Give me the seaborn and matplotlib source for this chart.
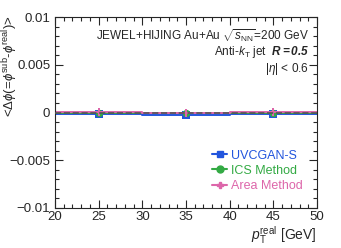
import numpy as np
import pandas as pd
import matplotlib
matplotlib.use("Agg")
import matplotlib.pyplot as plt
import seaborn as sns
from matplotlib.ticker import MultipleLocator

# Data
bin_edges = [20, 30, 40, 50]
bin_centers = [25, 35, 45]
uvcgan = [-0.0002, -0.0003, -0.0002]
ics = [0.0, -0.0001, 0.0]
area = [0.0001, 0.0, 0.0001]
methods = ["UVCGAN-S", "ICS Method", "Area Method"]
colors = ["#2255dd", "#33aa44", "#dd66aa"]
markers = ["s", "o", "P"]

df = pd.DataFrame({
    "pt": bin_centers * 3,
    "dphi": uvcgan + ics + area,
    "method": [m for m in methods for _ in bin_centers],
})

sns.set_style("ticks")
plt.rcParams["font.family"] = ["Liberation Sans", "DejaVu Sans"]
plt.rcParams["mathtext.fontset"] = "custom"
plt.rcParams["mathtext.rm"] = "Liberation Sans"
plt.rcParams["mathtext.it"] = "Liberation Sans:italic"
plt.rcParams["mathtext.bf"] = "Liberation Sans:bold:italic"

fig = plt.figure(figsize=(3.41, 2.48), dpi=100)
ax = fig.add_axes([55 / 341, 1 - 208 / 248, 262 / 341, 191 / 248])

ax.axhline(0, color="#555555", ls="--", lw=1.2, zorder=4)
for m, c, mk in zip(methods, colors, markers):
    sub = df[df["method"] == m]
    vals = sub["dphi"].tolist()
    ax.stairs(vals, bin_edges, color=c, lw=1.2, zorder=2)
    ax.errorbar(sub["pt"], sub["dphi"], xerr=5, fmt="none", ecolor=c, lw=1.2, zorder=2)
    sns.scatterplot(data=sub, x="pt", y="dphi", marker=mk, color=c, s=28,
                    edgecolor=c, linewidth=0, ax=ax, zorder=3, legend=False)
    ax.plot([], [], color=c, marker=mk, ms=5, lw=1.5, label=m)

ax.set_xlim(20, 50)
ax.set_ylim(-0.01, 0.01)
ax.xaxis.set_major_locator(MultipleLocator(5))
ax.xaxis.set_minor_locator(MultipleLocator(1))
ax.yaxis.set_minor_locator(MultipleLocator(0.001))
ax.set_yticks([-0.01, -0.005, 0, 0.005, 0.01])
ax.set_yticklabels(["\u22120.01", "\u22120.005", "0", "0.005", "0.01"])
ax.tick_params(which="both", direction="in", top=True, right=True, labelsize=9.5)
ax.tick_params(axis="x", pad=2)
ax.tick_params(which="major", length=6, width=0.8)
ax.tick_params(which="minor", length=3, width=0.8)

ax.set_xlabel(r"$p_{\mathrm{T}}^{\mathrm{real}}$ [GeV]", fontsize=10, loc="right")
ax.xaxis.set_label_coords(1.0, -0.085)
ax.set_ylabel(r"<$\Delta\phi$(=$\phi^{\mathrm{sub}}$-$\phi^{\mathrm{real}}$)>", fontsize=9.5, loc="top")
ax.yaxis.set_label_coords(-0.135, 1.01)

ax.text(0.97, 0.95, r"JEWEL+HIJING Au+Au $\sqrt{s_{\mathrm{NN}}}$=200 GeV",
        transform=ax.transAxes, ha="right", va="top", fontsize=8.5)
ax.text(0.97, 0.86, r"Anti-$k_{\mathrm{T}}$ jet  $\mathbf{R}$$\bf{=0.5}$",
        transform=ax.transAxes, ha="right", va="top", fontsize=8.5)
ax.text(0.97, 0.77, r"|$\eta$| < 0.6", transform=ax.transAxes, ha="right", va="top", fontsize=8.5)

leg = ax.legend(loc="lower right", bbox_to_anchor=(0.988, 0.025), frameon=False, fontsize=9,
                handlelength=1.2, handletextpad=0.3, labelspacing=0.25)
for t, c in zip(leg.get_texts(), colors):
    t.set_color(c)

fig.savefig("out.png", dpi=100)
